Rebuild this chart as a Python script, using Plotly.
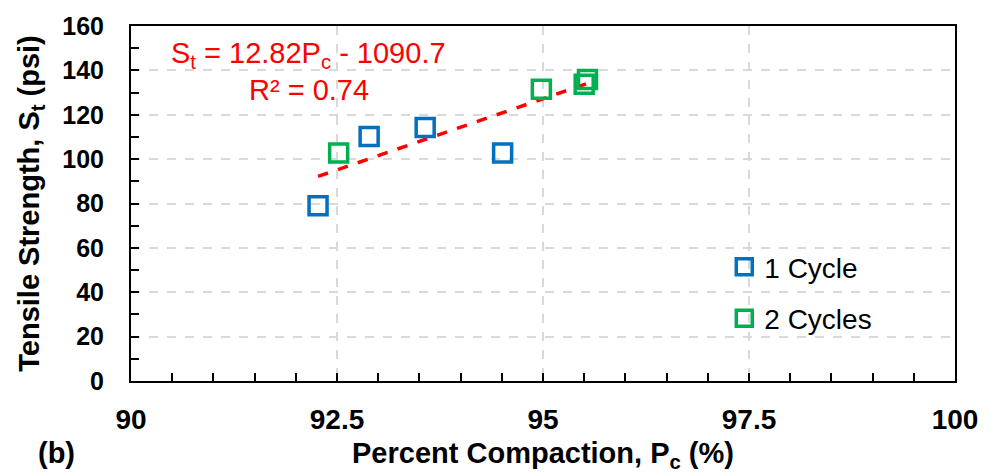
import plotly.graph_objects as go

# Data
pc_1cycle = [92.27, 92.89, 93.57, 94.51]
st_1cycle = [79.0, 110.2, 114.3, 102.8]
pc_2cycles = [92.52, 94.98, 95.50, 95.54]
st_2cycles = [102.8, 131.5, 133.7, 135.9]

trend_slope = 12.82
trend_intercept = -1090.7
r_squared = 0.74

x_ticks = [90, 92.5, 95, 97.5, 100]
x_tick_labels = ["90", "92.5", "95", "97.5", "100"]
y_ticks = [0, 20, 40, 60, 80, 100, 120, 140, 160]

FONT = "Liberation Sans, Arial, sans-serif"
BLUE = "#0070C0"
GREEN = "#00B050"

all_x = pc_1cycle + pc_2cycles
tx = [min(all_x), max(all_x)]
ty = [trend_slope * v + trend_intercept for v in tx]

fig = go.Figure()

fig.add_trace(go.Scatter(
    x=tx, y=ty, mode="lines", showlegend=False,
    line=dict(color="#FF0000", width=3.5, dash="dash"), hoverinfo="skip"))

fig.add_trace(go.Scatter(
    x=pc_1cycle, y=st_1cycle, mode="markers", name="1 Cycle", legendgroup="a",
    marker=dict(symbol="square-open", size=18, color=BLUE, line=dict(width=3.5, color=BLUE))))

fig.add_trace(go.Scatter(
    x=pc_2cycles, y=st_2cycles, mode="markers", name="2 Cycles", legendgroup="b",
    marker=dict(symbol="square-open", size=18, color=GREEN, line=dict(width=3.5, color=GREEN))))

axis_common = dict(
    showline=True, linecolor="black", linewidth=2, mirror=True,
    ticks="inside", ticklen=8, tickwidth=1.5, tickcolor="black",
    showgrid=True, gridcolor="#D9D9D9", gridwidth=1.5, griddash="dash",
    zeroline=False,
)

fig.update_xaxes(
    **axis_common,
    range=[90, 100], tickvals=x_ticks, ticktext=x_tick_labels,
    tickfont=dict(family=FONT, size=28, color="black", weight="bold"),
    minor=dict(dtick=0.5, ticks="inside", ticklen=8, tickwidth=1.5, tickcolor="black", showgrid=False),
    ticklabelstandoff=12,
    title=dict(text="Percent Compaction, P<sub>c</sub> (%)",
               font=dict(family=FONT, size=29, color="black", weight="bold"), standoff=9),
)
fig.update_yaxes(
    **axis_common,
    range=[0, 160], tickvals=y_ticks,
    tickfont=dict(family=FONT, size=25, color="black", weight="bold"),
    minor=dict(dtick=10, ticks="inside", ticklen=8, tickwidth=1.5, tickcolor="black", showgrid=False),
    ticklabelstandoff=20,
    title=dict(text="Tensile Strength, S<sub>t</sub> (psi)",
               font=dict(family=FONT, size=29, color="black", weight="bold"), standoff=14),
)

fig.add_annotation(
    x=92.16, y=147, xref="x", yref="y", xanchor="center", yanchor="middle",
    text="S<sub>t</sub> = %.2fP<sub>c</sub> - %.1f" % (trend_slope, -trend_intercept),
    showarrow=False, font=dict(family=FONT, size=29, color="#FF0000"))
fig.add_annotation(
    x=92.16, y=131, xref="x", yref="y", xanchor="center", yanchor="middle",
    text="R² = %.2f" % r_squared,
    showarrow=False, font=dict(family=FONT, size=29, color="#FF0000"))

fig.add_annotation(
    x=-0.115, y=-0.204, xref="paper", yref="paper", xanchor="left", yanchor="middle",
    text="(b)", showarrow=False,
    font=dict(family=FONT, size=29, color="black", weight="bold"))

fig.update_layout(
    width=990, height=476,
    margin=dict(l=131, r=30, t=20, b=93),
    paper_bgcolor="white", plot_bgcolor="white",
    legend=dict(x=0.72, y=0.249, xanchor="left", yanchor="middle",
                bgcolor="rgba(0,0,0,0)", tracegroupgap=12, itemwidth=30,
                font=dict(family=FONT, size=28, color="black")),
)

fig.write_html("out.html")
